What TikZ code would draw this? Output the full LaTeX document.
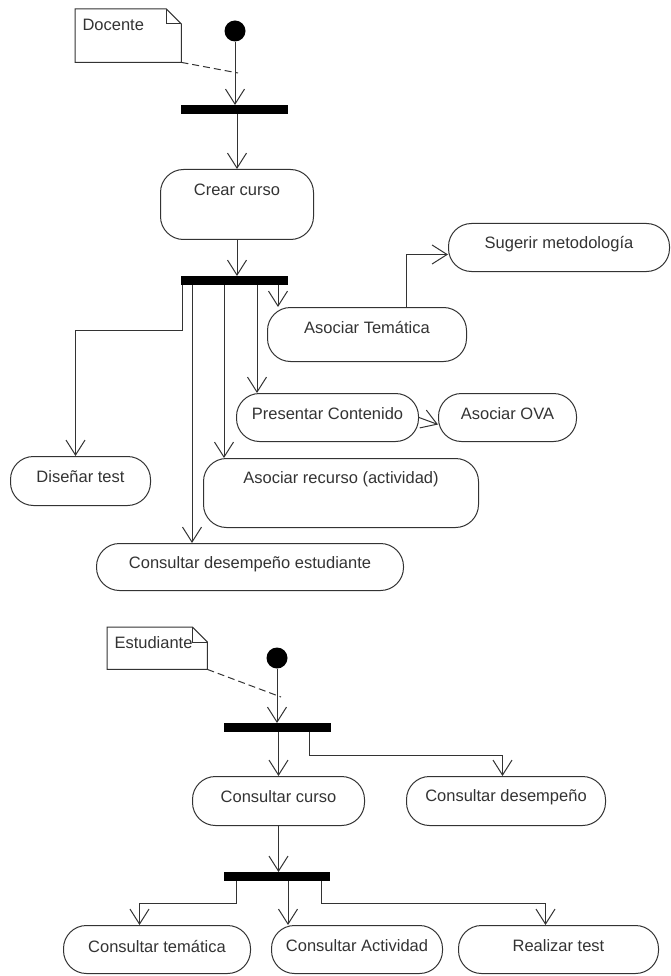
\documentclass[tikz,border=0pt]{standalone}
\usepackage{fontspec}
\setmainfont{Liberation Sans}
\usetikzlibrary{arrows.meta,calc}

\begin{document}
\begin{tikzpicture}[x=1pt,y=-1pt,
  every node/.style={font=\fontsize{16.5}{19}\selectfont, text=black!80},
  act/.style={draw=black!80, line width=1pt, rounded corners=23pt, anchor=north west, inner sep=0pt},
  actlabel/.style={anchor=center, yshift=-21pt},
  forkbar/.style={fill=black, draw=none, anchor=north west, inner sep=0pt, minimum width=107pt, minimum height=9pt},
  start/.style={circle, fill=black, draw=none, minimum size=21pt, inner sep=0pt},
  flow/.style={draw=black!80, line width=1pt, -{Straight Barb[length=15pt,width=19pt]}},
  notebox/.style={anchor=north west, inner sep=0pt, draw=none},
  notelabel/.style={anchor=west, xshift=4pt, yshift=-16pt},
  noteline/.style={draw=black!80, line width=1pt, line join=miter},
  notelink/.style={draw=black!80, line width=1pt, dash pattern=on 7pt off 4pt},
]
\useasboundingbox (0,0) rectangle (670,976);

% ---------- Docente ----------
\node[notebox, minimum width=106pt, minimum height=53pt,
      label={[notelabel]north west:Docente}] (docente) at (75,9) {};
\draw[noteline] (docente.north west) -- ([xshift=-15pt]docente.north east)
  -- ([yshift=-15pt]docente.north east) -- (docente.south east)
  -- (docente.south west) -- cycle;
\draw[noteline] ([xshift=-15pt]docente.north east)
  -- ([xshift=-15pt,yshift=-15pt]docente.north east)
  -- ([yshift=-15pt]docente.north east);

\node[start] (init1) at (235,31) {};
\coordinate (link1) at (238,73);
\draw[notelink] (docente.south east) -- (link1);

\node[forkbar] (bar1) at (181,105) {};
\node[act, minimum width=153pt, minimum height=70pt,
      label={[actlabel]north:Crear curso}] (crear) at (160,169) {};
\node[forkbar] (bar2) at (181,276) {};

\node[act, minimum width=199pt, minimum height=54pt,
      label={[actlabel]north:Asociar Temática}] (at) at (267,307) {};
\node[act, minimum width=221pt, minimum height=48pt,
      label={[actlabel]north:Sugerir metodología}] (sm) at (448,223) {};
\node[act, minimum width=182pt, minimum height=48pt,
      label={[actlabel]north:Presentar Contenido}] (pc) at (236,393) {};
\node[act, minimum width=138pt, minimum height=48pt,
      label={[actlabel]north:Asociar OVA}] (ova) at (438,393) {};
\node[act, minimum width=140pt, minimum height=49pt,
      label={[actlabel]north:Diseñar test}] (dt) at (10,456) {};
\node[act, minimum width=275pt, minimum height=69pt,
      label={[actlabel]north:Asociar recurso (actividad)}] (ar) at (203,458) {};
\node[act, minimum width=307pt, minimum height=47pt,
      label={[actlabel]north:Consultar desempeño estudiante}] (cde) at (96,543) {};

\draw[flow] (init1) -- (init1 |- bar1.north);
\draw[flow] (crear.north |- bar1.south) -- (crear.north);
\draw[flow] (crear.south) -- (crear.south |- bar2.north);

\coordinate (b2a) at ([xshift=1pt]bar2.south west);
\coordinate (b2b) at ([xshift=11pt]bar2.south west);
\coordinate (b2c) at ([xshift=43pt]bar2.south west);
\coordinate (b2d) at ([xshift=76pt]bar2.south west);
\coordinate (b2e) at ([xshift=97pt]bar2.south west);
\draw[flow] (b2a) -- ++(0,45) -| ([xshift=-5pt]dt.north);
\draw[flow] (b2b) -- (b2b |- cde.north);
\draw[flow] (b2c) -- (b2c |- ar.north);
\draw[flow] (b2d) -- (b2d |- pc.north);
\draw[flow] (b2e) -- (b2e |- at.north);
\draw[flow] ([xshift=39.5pt]at.north) |- ([yshift=-7pt]sm.west);
\draw[flow] (pc.east) -- ([yshift=-7pt]ova.west);

% ---------- Estudiante ----------
\node[notebox, minimum width=100pt, minimum height=42pt,
      label={[notelabel]north west:Estudiante}] (estudiante) at (107,627) {};
\draw[noteline] (estudiante.north west) -- ([xshift=-15pt]estudiante.north east)
  -- ([yshift=-15pt]estudiante.north east) -- (estudiante.south east)
  -- (estudiante.south west) -- cycle;
\draw[noteline] ([xshift=-15pt]estudiante.north east)
  -- ([xshift=-15pt,yshift=-15pt]estudiante.north east)
  -- ([yshift=-15pt]estudiante.north east);

\node[start] (init2) at (277,658) {};
\coordinate (link2) at (281,697);
\draw[notelink] (estudiante.south east) -- (link2);

\node[forkbar] (bar3) at (224,723) {};
\node[act, minimum width=172pt, minimum height=49pt,
      label={[actlabel]north:Consultar curso}] (cc) at (192,776) {};
\node[act, minimum width=199pt, minimum height=49pt,
      label={[actlabel]north:Consultar desempeño}] (cd) at (406,776) {};
\node[forkbar, minimum width=106pt] (bar4) at (224,872) {};
\node[act, minimum width=187pt, minimum height=48pt,
      label={[actlabel]north:Consultar temática}] (ct) at (63,925) {};
\node[act, minimum width=171pt, minimum height=48pt,
      label={[actlabel]north:Consultar Actividad}] (ca) at (271,925) {};
\node[act, minimum width=200pt, minimum height=48pt,
      label={[actlabel]north:Realizar test}] (rt) at (458,925) {};

\draw[flow] (init2) -- (init2 |- bar3.north);
\draw[flow] (cc.north |- bar3.south) -- (cc.north);
\coordinate (b3a) at ([xshift=85pt]bar3.south west);
\draw[flow] (b3a) -- ++(0,23) -| ([xshift=-3.5pt]cd.north);
\draw[flow] (cc.south) -- (cc.south |- bar4.north);

\coordinate (b4a) at ([xshift=12pt]bar4.south west);
\coordinate (b4b) at ([xshift=64pt]bar4.south west);
\coordinate (b4c) at ([xshift=97pt]bar4.south west);
\draw[flow] (b4a) -- ++(0,22) -| ([xshift=-17.5pt]ct.north);
\draw[flow] (b4b) -- (b4b |- ca.north);
\draw[flow] (b4c) -- ++(0,22) -| ([xshift=-13pt]rt.north);
\end{tikzpicture}
\end{document}
